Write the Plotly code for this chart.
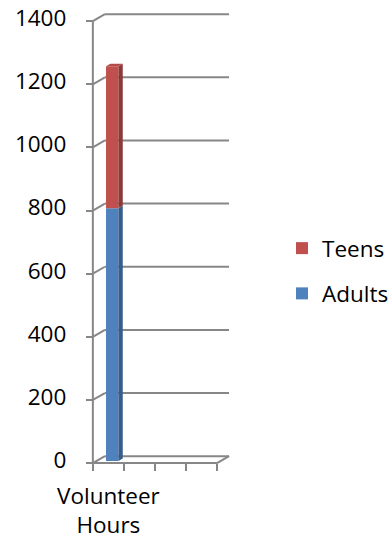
import plotly.graph_objects as go

# Category slots along the floor (only the first one carries data)
categories = ["Volunteer<br>Hours", "", "", ""]
adults = [800]
teens = [450]
series = [("Adults", adults, "#4F81BD", "#385D8A", "#4A79B0", 2),
          ("Teens", teens, "#C0504D", "#8C3A38", "#B44B48", 1)]

y_ticks = [0, 200, 400, 600, 800, 1000, 1200, 1400]

# Pseudo-3D geometry: depth offset of the back wall in axis units
DX = 0.387           # category units
DY = 22.0            # value units
D0, D1 = 0.32, 0.68  # front / back planes of the column (fraction of depth)
BAR_W = 0.4
n = len(categories)
GRID = "#878787"
FONT = dict(family="'Open Sans', Lato, sans-serif", size=22.5, color="#000000")

x_range = [-0.06, 4.45]
y_range = [-6, 1429]

fig = go.Figure()

# Frame: front value axis, side-wall diagonals, back-wall gridlines, floor
shapes = []
def seg(x0, y0, x1, y1):
    shapes.append(dict(type="line", xref="x", yref="y", x0=x0, y0=y0, x1=x1, y1=y1,
                       line=dict(color=GRID, width=2), layer="below"))

seg(0, 0, 0, y_ticks[-1])
for v in y_ticks:
    seg(0, v, DX, v + DY)
    seg(DX, v + DY, n + DX, v + DY)
seg(0, 0, n, 0)
seg(n, 0, n + DX, DY)

# Stacked columns: front faces as bars, side and top faces as filled polygons
base = [0.0] * len(adults)
for si, (name, vals, front, side, top, rank) in enumerate(series):
    xs = [i + 0.5 + D0 * DX for i in range(len(vals))]
    fig.add_trace(go.Bar(
        x=xs, y=vals, base=[b + D0 * DY for b in base], width=BAR_W,
        name=name, marker=dict(color=front, line=dict(width=0)),
        legendgroup=name, legendrank=rank, hoverinfo="skip"))
    for i, v in enumerate(vals):
        xl = i + 0.5 - BAR_W / 2
        xr = i + 0.5 + BAR_W / 2
        b0, b1 = base[i], base[i] + v
        fig.add_trace(go.Scatter(
            x=[xr + D0 * DX, xr + D1 * DX, xr + D1 * DX, xr + D0 * DX, xr + D0 * DX],
            y=[b0 + D0 * DY, b0 + D1 * DY, b1 + D1 * DY, b1 + D0 * DY, b0 + D0 * DY],
            mode="lines", line=dict(width=0, color=side), fill="toself", fillcolor=side,
            showlegend=False, hoverinfo="skip"))
        if si == len(series) - 1:
            fig.add_trace(go.Scatter(
                x=[xl + D0 * DX, xl + D1 * DX, xr + D1 * DX, xr + D0 * DX, xl + D0 * DX],
                y=[b1 + D0 * DY, b1 + D1 * DY, b1 + D1 * DY, b1 + D0 * DY, b1 + D0 * DY],
                mode="lines", line=dict(width=0, color=top), fill="toself", fillcolor=top,
                showlegend=False, hoverinfo="skip"))
        base[i] = b1

fig.update_layout(
    width=390, height=540,
    margin=dict(l=91, r=159, t=12, b=75, autoexpand=False),
    paper_bgcolor="white", plot_bgcolor="white",
    shapes=shapes,
    barmode="overlay",
    font=FONT,
    showlegend=True,
    legend=dict(x=(282 - 91) / 140, xanchor="left", y=1 - (227 - 12) / 453, yanchor="top",
                traceorder="grouped", tracegroupgap=13, font=FONT,
                bgcolor="rgba(0,0,0,0)"),
    xaxis=dict(range=x_range, showgrid=False, zeroline=False, showline=False,
               tickmode="array", tickvals=[0.5], ticktext=[categories[0]], ticks="",
               tickfont=FONT, ticklabelstandoff=17,
               minor=dict(tickmode="array", tickvals=list(range(n + 1)), ticks="outside",
                          ticklen=7, tickwidth=2, tickcolor=GRID),
               anchor="free", position=(0 - y_range[0]) / (y_range[1] - y_range[0])),
    yaxis=dict(range=y_range, showgrid=False, zeroline=False, showline=False,
               tickmode="array", tickvals=y_ticks, ticks="outside", ticklen=7,
               tickwidth=2, tickcolor=GRID, tickfont=FONT, ticklabelstandoff=15,
               ticklabelshift=-3,
               anchor="free", position=(0 - x_range[0]) / (x_range[1] - x_range[0])),
)

fig.write_html("out.html")
